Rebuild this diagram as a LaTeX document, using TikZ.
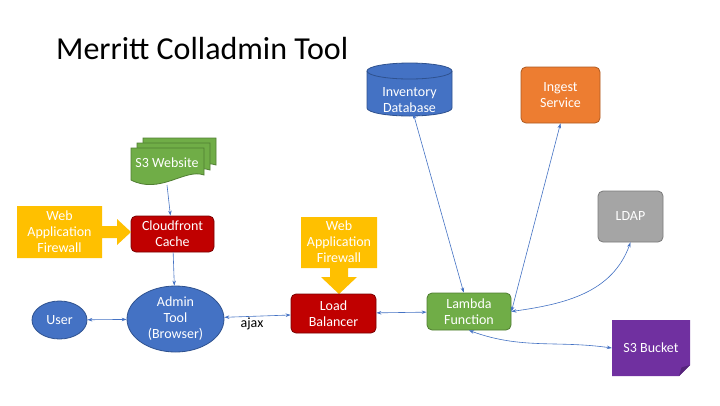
\documentclass[tikz,border=0pt]{standalone}
\usepackage{fontspec}
\setmainfont{Carlito}
\usetikzlibrary{shapes.geometric,arrows.meta}

\definecolor{fillblue}{HTML}{4472C4}
\definecolor{lineblue}{HTML}{2F528F}
\definecolor{fillred}{HTML}{C00000}
\definecolor{linered}{HTML}{7A0000}
\definecolor{fillgreen}{HTML}{70AD47}
\definecolor{linegreen}{HTML}{507E32}
\definecolor{fillorange}{HTML}{ED7D31}
\definecolor{lineorange}{HTML}{AE5A21}
\definecolor{fillgray}{HTML}{A5A5A5}
\definecolor{linegray}{HTML}{7B7B7B}
\definecolor{fillpurple}{HTML}{7030A0}
\definecolor{foldpurple}{HTML}{55247A}
\definecolor{wafyellow}{HTML}{FFC000}
\definecolor{linkblue}{HTML}{4472C4}

\begin{document}
\begin{tikzpicture}
        [x=1pt,y=-1pt,>={Stealth[length=5pt,width=3.5pt]},
         every node/.style={text=white,font=\fontsize{14}{16}\selectfont,align=center,inner sep=1pt},
         box/.style={rectangle,rounded corners=5pt,line width=0.8pt},
         oval/.style={ellipse,fill=fillblue,draw=lineblue,line width=0.8pt,inner sep=0pt},
         link/.style={draw=linkblue,line width=0.6pt}]
        \fill[white] (0,0) rectangle (720,405);
        \useasboundingbox (0,0) rectangle (720,405);

        \node[anchor=base west,text=black,font=\fontsize{32}{38}\selectfont] (title) at (55,59) {Merritt Colladmin Tool};

        % S3 website: three sheets
        \foreach \dx/\dy in {12/-10, 6/-5, 0/0}
            \filldraw[fill=fillgreen,draw=linegreen,line width=0.8pt,shift={(\dx,\dy)}]
                (131,148) -- (204,148) -- (204,175) .. controls (185,168) and (160,195) .. (131,180) -- cycle;
        \node (s3web) at (167,163) {S3 Website};
        \coordinate (s3bot) at (167,185);

        \node[box,fill=fillred,draw=linered,minimum width=83pt,minimum height=36pt] (cloudfront) at (172.5,234) {Cloudfront\\Cache};

        % firewalls
        \fill[wafyellow] (17,206) -- (102,206) -- (102,226) -- (117,226) -- (117,219) -- (131,232)
            -- (117,245) -- (117,238) -- (102,238) -- (102,258) -- (17,258) -- cycle;
        \node (waf1) at (59.5,232) {Web\\Application\\Firewall};

        \fill[wafyellow] (301,217) -- (377,217) -- (377,268) -- (348,268) -- (348,277) -- (357,277)
            -- (339,294) -- (321,277) -- (330,277) -- (330,268) -- (301,268) -- cycle;
        \node (waf2) at (339,242) {Web\\Application\\Firewall};

        \node[oval,minimum width=55pt,minimum height=38pt] (user) at (59.5,320) {User};
        \node[oval,minimum width=97pt,minimum height=66pt] (admin) at (175.5,319) {};
        \node (adminlbl) at (admin) {Admin\\Tool\\(Browser)};
        \node[text=black,anchor=base] (ajax) at (252,327) {ajax};

        \node[box,fill=fillred,draw=linered,minimum width=85pt,minimum height=39pt] (lb) at (333.5,313.5) {Load\\Balancer};
        \node[box,fill=fillgreen,draw=linegreen,minimum width=84pt,minimum height=37pt] (lambda) at (469,311.5) {Lambda\\Function};

        % inventory database
        \filldraw[fill=fillblue,draw=lineblue,line width=0.8pt]
            (367,71) -- (367,108) arc[start angle=180,end angle=0,x radius=42.5,y radius=8]
            -- (452,71) arc[start angle=0,end angle=-180,x radius=42.5,y radius=8] -- cycle;
        \draw[lineblue,line width=0.8pt] (367,71) arc[start angle=180,end angle=0,x radius=42.5,y radius=8];
        \node (invdb) at (409.5,100) {Inventory\\Database};

        \node[box,fill=fillorange,draw=lineorange,minimum width=79pt,minimum height=56pt] (ingest) at (560.5,95) {Ingest\\Service};
        \node[box,fill=fillgray,draw=linegray,minimum width=65pt,minimum height=51pt] (ldap) at (630.5,216.5) {LDAP};

        % s3 bucket with folded corner
        \fill[fillpurple] (612,320) -- (690,320) -- (690,365) -- (679,376) -- (612,376) -- cycle;
        \fill[foldpurple] (690,365) -- (679,376) -- (681.5,367.5) -- cycle;
        \node[minimum width=78pt,minimum height=56pt] (s3bucket) at (651,348) {S3 Bucket};

        \foreach \from/\to in {s3bot/cloudfront, cloudfront/admin}
            \draw[link,->] (\from) -- (\to);

        \foreach \from/\to in {user/admin, admin/lb, lb/lambda, invdb/lambda}
            \draw[link,<->] (\from) -- (\to);

        \draw[link,<->] (ingest.south) -- (lambda.east);
        \draw[link,<->] (lambda.east) to[out=8,in=-110] (ldap.south);
        \draw[link,<->] (lambda.south) to[out=-20,in=172] (s3bucket.west);

\end{tikzpicture}
\end{document}
